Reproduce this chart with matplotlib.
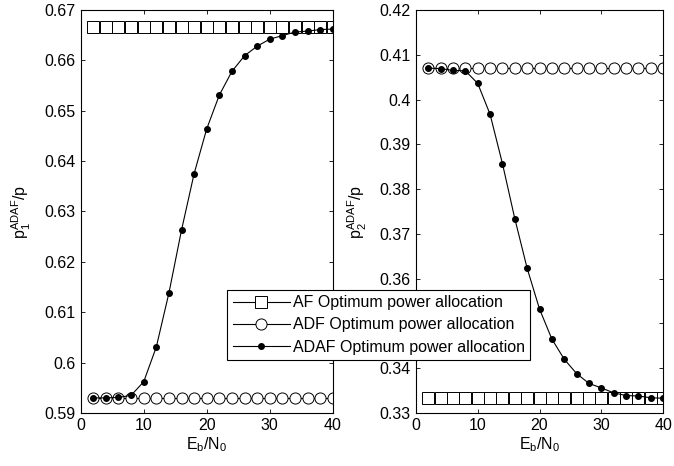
import numpy as np
import matplotlib
matplotlib.use('Agg')
import matplotlib.pyplot as plt
from matplotlib.ticker import FormatStrFormatter

plt.rcParams['font.family'] = ['Liberation Sans', 'DejaVu Sans']
plt.rcParams['mathtext.fontset'] = 'custom'
plt.rcParams['mathtext.rm'] = 'Liberation Sans'
plt.rcParams['mathtext.it'] = 'Liberation Sans'

# Eb/N0 values
snr = [2, 4, 6, 8, 10, 12, 14, 16, 18, 20, 22, 24, 26, 28, 30, 32, 34, 36, 38, 40]

# left panel: relay 1 power share
p1_af = [0.6667] * 20
p1_adf = [0.5930] * 20
p1_adaf = [0.5930, 0.5930, 0.5931, 0.5935, 0.5962, 0.6031, 0.6138, 0.6263, 0.6375, 0.6464,
           0.6531, 0.6578, 0.6609, 0.6628, 0.6642, 0.6649, 0.6656, 0.6658, 0.6661, 0.6662]

# right panel: relay 2 power share
p2_af = [0.3333] * 20
p2_adf = [0.4070] * 20
p2_adaf = [0.4070, 0.4069, 0.4065, 0.4064, 0.4036, 0.3967, 0.3857, 0.3734, 0.3623, 0.3532,
           0.3465, 0.3420, 0.3388, 0.3366, 0.3356, 0.3345, 0.3339, 0.3338, 0.3334, 0.3333]

labels = ['AF Optimum power allocation', 'ADF Optimum power allocation',
          'ADAF Optimum power allocation']

fig = plt.figure(figsize=(6.74, 4.66), dpi=100)
ax1 = fig.add_axes([0.1197, 0.1137, 0.374, 0.865])
ax2 = fig.add_axes([0.617, 0.1137, 0.367, 0.865])


def draw(ax, af, adf, adaf):
    h1, = ax.plot(snr, af, color='black', lw=0.8, marker='s', ms=8,
                  mfc='white', mec='black', mew=0.7)
    h2, = ax.plot(snr, adf, color='black', lw=0.8, marker='o', ms=8,
                  mfc='white', mec='black', mew=0.7)
    h3, = ax.plot(snr, adaf, color='black', lw=0.8, marker='o', ms=4,
                  mfc='black', mec='black')
    ax.set_xlim(0, 40)
    ax.set_xticks([0, 10, 20, 30, 40])
    ax.tick_params(direction='in', top=True, right=True, labelsize=11.5, length=3, width=0.6)
    for s in ax.spines.values():
        s.set_linewidth(0.8)
    ax.set_xlabel('E$_\\mathregular{b}$/N$_\\mathregular{0}$', fontsize=11.5, labelpad=2)
    return [h1, h2, h3]


handles = draw(ax1, p1_af, p1_adf, p1_adaf)
ax1.set_ylim(0.59, 0.67)
ax1.set_yticks(np.arange(0.59, 0.6701, 0.01))
ax1.yaxis.set_major_formatter(FormatStrFormatter('%g'))
ax1.set_ylabel('p$_\\mathregular{1}^\\mathregular{ADAF}$/p', fontsize=11.5, labelpad=8)

draw(ax2, p2_af, p2_adf, p2_adaf)
ax2.set_ylim(0.33, 0.42)
ax2.set_yticks(np.arange(0.33, 0.4201, 0.01))
ax2.yaxis.set_major_formatter(FormatStrFormatter('%g'))
ax2.set_ylabel('p$_\\mathregular{2}^\\mathregular{ADAF}$/p', fontsize=11.5, labelpad=8)

leg = fig.legend(handles, labels, loc='lower left', bbox_to_anchor=(0.337, 0.227),
                 fontsize=11.5, handlelength=3.6, handletextpad=0.15, borderpad=0.35,
                 labelspacing=0.45, borderaxespad=0, frameon=True, fancybox=False,
                 edgecolor='black', framealpha=1)
leg.get_frame().set_linewidth(0.8)
leg.set_zorder(10)

fig.savefig('out.png', dpi=100)
